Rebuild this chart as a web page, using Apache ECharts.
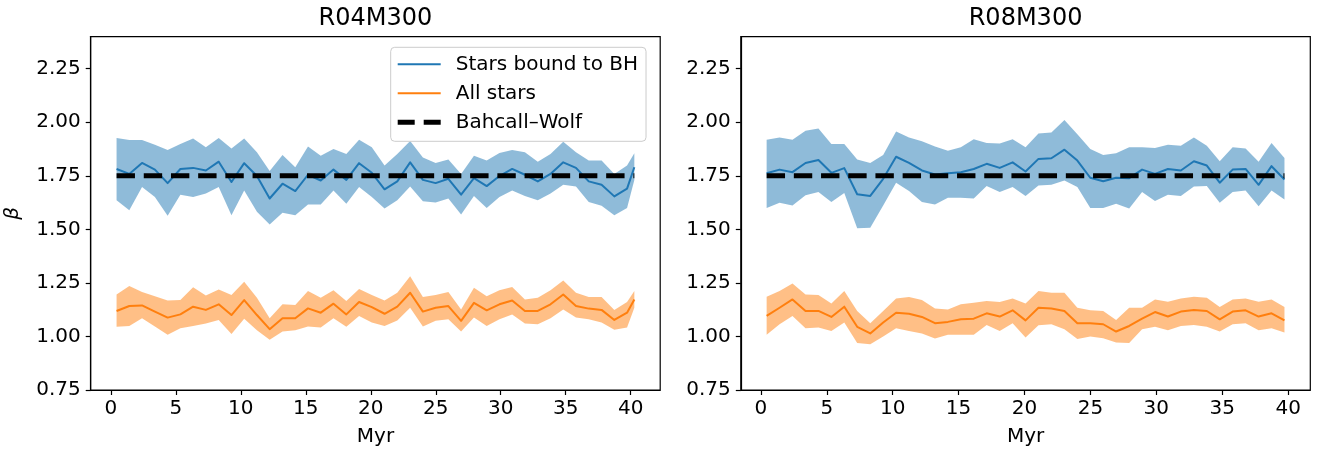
<!DOCTYPE html>
<html>
<head>
<meta charset="utf-8">
<script src="https://cdn.jsdelivr.net/npm/echarts@6/dist/echarts.min.js"></script>
<style>
  html, body { margin: 0; padding: 0; background: #ffffff; }
  #chart { width: 1318px; height: 452px; }
</style>
</head>
<body>
<div id="chart"></div>
<script>
// Snapshot times (Myr)
const timesLeft = [0.44, 1.42, 2.40, 3.39, 4.37, 5.35, 6.33, 7.31, 8.30, 9.28, 10.26, 11.24, 12.22, 13.21,
  14.19, 15.17, 16.15, 17.13, 18.12, 19.10, 20.08, 21.06, 22.04, 23.03, 24.01, 24.99, 25.97, 26.95, 27.94,
  28.92, 29.90, 30.88, 31.86, 32.85, 33.83, 34.81, 35.79, 36.77, 37.76, 38.74, 39.72, 40.28];
const timesRight = [0.44, 1.42, 2.40, 3.39, 4.37, 5.35, 6.33, 7.31, 8.30, 9.28, 10.26, 11.24, 12.22, 13.21,
  14.19, 15.17, 16.15, 17.13, 18.12, 19.10, 20.08, 21.06, 22.04, 23.03, 24.01, 24.99, 25.97, 26.95, 27.94,
  28.92, 29.90, 30.88, 31.86, 32.85, 33.83, 34.81, 35.79, 36.77, 37.76, 38.74, 39.72];

// R04M300: slope beta, stars bound to the BH (mean, upper, lower)
const r04BoundMid = [1.782, 1.759, 1.810, 1.779, 1.716, 1.782, 1.787, 1.775, 1.816, 1.721, 1.809, 1.749, 1.644, 1.713,
  1.679, 1.755, 1.728, 1.779, 1.731, 1.809, 1.764, 1.687, 1.724, 1.813, 1.731, 1.716, 1.736, 1.662, 1.739,
  1.702, 1.749, 1.782, 1.755, 1.724, 1.759, 1.813, 1.787, 1.724, 1.708, 1.654, 1.690, 1.790];
const r04BoundHi = [1.926, 1.917, 1.917, 1.895, 1.870, 1.898, 1.924, 1.883, 1.926, 1.878, 1.924, 1.860, 1.772, 1.847,
  1.790, 1.887, 1.844, 1.875, 1.852, 1.918, 1.883, 1.798, 1.852, 1.913, 1.836, 1.810, 1.826, 1.759, 1.844,
  1.821, 1.856, 1.870, 1.860, 1.816, 1.852, 1.909, 1.860, 1.821, 1.821, 1.759, 1.798, 1.855];
const r04BoundLo = [1.636, 1.589, 1.698, 1.651, 1.563, 1.662, 1.651, 1.667, 1.698, 1.566, 1.682, 1.582, 1.523, 1.577,
  1.566, 1.616, 1.616, 1.682, 1.620, 1.698, 1.651, 1.597, 1.636, 1.700, 1.631, 1.625, 1.644, 1.569, 1.656,
  1.600, 1.651, 1.682, 1.656, 1.636, 1.667, 1.708, 1.700, 1.628, 1.610, 1.566, 1.600, 1.731];
// R04M300: all stars
const r04AllMid = [1.119, 1.142, 1.145, 1.116, 1.088, 1.103, 1.139, 1.124, 1.150, 1.100, 1.170, 1.100, 1.034, 1.085,
  1.085, 1.131, 1.111, 1.153, 1.103, 1.161, 1.137, 1.106, 1.139, 1.204, 1.116, 1.134, 1.142, 1.073, 1.157,
  1.122, 1.150, 1.168, 1.119, 1.119, 1.150, 1.196, 1.142, 1.130, 1.124, 1.077, 1.111, 1.173];
const r04AllHi = [1.196, 1.235, 1.208, 1.188, 1.168, 1.170, 1.230, 1.191, 1.219, 1.193, 1.255, 1.181, 1.085, 1.150,
  1.147, 1.212, 1.181, 1.216, 1.165, 1.222, 1.193, 1.168, 1.204, 1.281, 1.184, 1.193, 1.208, 1.126, 1.227,
  1.188, 1.216, 1.231, 1.173, 1.181, 1.216, 1.261, 1.204, 1.184, 1.184, 1.124, 1.161, 1.212];
const r04AllLo = [1.045, 1.049, 1.085, 1.046, 1.008, 1.038, 1.049, 1.060, 1.077, 1.011, 1.083, 1.029, 0.985, 1.023,
  1.029, 1.046, 1.042, 1.085, 1.045, 1.096, 1.065, 1.049, 1.075, 1.134, 1.046, 1.073, 1.080, 1.023, 1.088,
  1.049, 1.080, 1.103, 1.060, 1.057, 1.085, 1.126, 1.088, 1.080, 1.065, 1.031, 1.042, 1.134];

// R08M300: stars bound to the BH
const r08BoundMid = [1.762, 1.779, 1.767, 1.810, 1.824, 1.764, 1.786, 1.664, 1.656, 1.736, 1.839, 1.810, 1.775, 1.756,
  1.762, 1.767, 1.782, 1.806, 1.787, 1.813, 1.770, 1.829, 1.832, 1.872, 1.821, 1.741, 1.725, 1.741, 1.739,
  1.779, 1.759, 1.782, 1.775, 1.818, 1.798, 1.718, 1.779, 1.782, 1.708, 1.795, 1.733];
const r08BoundHi = [1.918, 1.929, 1.918, 1.960, 1.971, 1.898, 1.898, 1.826, 1.810, 1.847, 1.957, 1.929, 1.911, 1.887,
  1.867, 1.883, 1.921, 1.903, 1.901, 1.921, 1.883, 1.948, 1.952, 2.011, 1.944, 1.875, 1.847, 1.855, 1.883,
  1.883, 1.880, 1.895, 1.890, 1.929, 1.890, 1.818, 1.883, 1.878, 1.816, 1.903, 1.833];
const r08BoundLo = [1.600, 1.624, 1.612, 1.659, 1.674, 1.628, 1.670, 1.505, 1.508, 1.612, 1.718, 1.679, 1.628, 1.616,
  1.648, 1.648, 1.644, 1.702, 1.674, 1.698, 1.656, 1.705, 1.708, 1.728, 1.698, 1.600, 1.600, 1.620, 1.597,
  1.674, 1.633, 1.662, 1.656, 1.700, 1.702, 1.624, 1.674, 1.682, 1.608, 1.682, 1.639];
// R08M300: all stars
const r08AllMid = [1.096, 1.134, 1.173, 1.119, 1.119, 1.091, 1.139, 1.045, 1.014, 1.065, 1.111, 1.106, 1.091, 1.062,
  1.068, 1.080, 1.083, 1.108, 1.093, 1.122, 1.075, 1.134, 1.131, 1.119, 1.062, 1.062, 1.057, 1.023, 1.049,
  1.083, 1.114, 1.093, 1.116, 1.124, 1.119, 1.080, 1.116, 1.122, 1.093, 1.108, 1.075];
const r08AllHi = [1.185, 1.212, 1.247, 1.196, 1.193, 1.154, 1.212, 1.119, 1.062, 1.119, 1.177, 1.184, 1.170, 1.131,
  1.126, 1.150, 1.157, 1.165, 1.161, 1.177, 1.154, 1.212, 1.204, 1.204, 1.134, 1.122, 1.119, 1.077, 1.134,
  1.134, 1.173, 1.162, 1.177, 1.185, 1.181, 1.137, 1.173, 1.177, 1.162, 1.173, 1.137];
const r08AllLo = [1.008, 1.057, 1.096, 1.038, 1.042, 1.026, 1.065, 0.969, 0.964, 1.000, 1.038, 1.026, 1.014, 0.991,
  1.008, 1.008, 1.008, 1.054, 1.026, 1.062, 0.995, 1.052, 1.057, 1.034, 0.988, 1.000, 0.992, 0.972, 0.969,
  1.034, 1.045, 1.029, 1.049, 1.054, 1.045, 1.023, 1.057, 1.062, 1.029, 1.038, 1.019];

// Bahcall-Wolf cusp slope
const bahcallWolf = 1.75;

// Tick values
const xTicks = [0, 5, 10, 15, 20, 25, 30, 35, 40];
const yTicks = [0.75, 1.00, 1.25, 1.50, 1.75, 2.00, 2.25];

const panelTitles = ['R04M300', 'R08M300'];
const seriesNames = ['Stars bound to BH', 'All stars', 'Bahcall\u2013Wolf'];

const FONT = 'DejaVu Sans';
const BLUE = '#1f77b4';
const ORANGE = '#ff7f0e';
const BLUE_FILL = 'rgba(31,119,180,0.5)';
const ORANGE_FILL = 'rgba(255,127,14,0.5)';
const BW_DASH = [18.4, 8.8];
// Legend key for the dashed reference line: two dashes inside a 43x14 box
const DASH_ICON = 'path://M0,0H0.01V14H0Z M0,4.5H17V9.5H0Z M26,4.5H43V9.5H26Z M42.99,0H43V14H42.99Z';

const pairs = (t, v) => t.map((x, i) => [x, v[i]]);

// Shaded spread between lower and upper curves, drawn as one polygon
function band(idx, t, lo, hi, fill) {
  return {
    type: 'custom', xAxisIndex: idx, yAxisIndex: idx, z: 1, silent: true,
    data: t.map((x, i) => [x, lo[i], hi[i]]),
    encode: { x: 0, y: [1, 2] },
    renderItem(params, api) {
      if (params.dataIndex !== 0) return null;
      const pts = [];
      for (let i = 0; i < t.length; i++) pts.push(api.coord([t[i], hi[i]]));
      for (let i = t.length - 1; i >= 0; i--) pts.push(api.coord([t[i], lo[i]]));
      return { type: 'polygon', shape: { points: pts }, style: { fill: fill, stroke: null } };
    }
  };
}

function line(idx, name, data, color, width, z, dash) {
  return {
    type: 'line', name: name, xAxisIndex: idx, yAxisIndex: idx, z: z,
    data: data, symbol: 'none', showSymbol: false, silent: true, animation: false,
    lineStyle: { color: color, width: width, type: dash || 'solid', cap: 'butt', join: 'round' },
    itemStyle: { color: color }
  };
}

const panels = [
  { t: timesLeft, bm: r04BoundMid, bh: r04BoundHi, bl: r04BoundLo, am: r04AllMid, ah: r04AllHi, al: r04AllLo,
    xMin: -1.55, xMax: 42.27, left: 90.7 },
  { t: timesRight, bm: r08BoundMid, bh: r08BoundHi, bl: r08BoundLo, am: r08AllMid, ah: r08AllHi, al: r08AllLo,
    xMin: -1.52, xMax: 41.68, left: 740.8 }
];

const GRID_W = 569.5, GRID_TOP = 36.6, GRID_H = 356.4;
const axisText = { fontSize: 20, fontFamily: FONT, color: '#000' };

const grids = [], xAxes = [], yAxes = [], series = [], titles = [];
panels.forEach((p, k) => {
  grids.push({ left: p.left, top: GRID_TOP, width: GRID_W, height: GRID_H,
    show: true, borderColor: '#000', borderWidth: 1.2, backgroundColor: 'transparent' });
  titles.push({ text: panelTitles[k], left: p.left + GRID_W / 2, top: 7, textAlign: 'center', padding: 0,
    textStyle: { fontSize: 24, fontFamily: FONT, fontWeight: 'normal', color: '#000' } });
  xAxes.push({
    gridIndex: k, type: 'value', min: p.xMin, max: p.xMax,
    splitLine: { show: false },
    axisLine: { show: true, onZero: false, lineStyle: { color: '#000', width: 1.2 } },
    axisTick: { show: true, length: 5, customValues: xTicks, lineStyle: { color: '#000', width: 1.2 } },
    axisLabel: { customValues: xTicks, margin: 9, ...axisText },
    name: 'Myr', nameLocation: 'middle', nameGap: 37, nameTextStyle: axisText
  });
  yAxes.push({
    gridIndex: k, type: 'value', min: 0.75, max: 2.4,
    splitLine: { show: false },
    axisLine: { show: true, onZero: false, lineStyle: { color: '#000', width: 1.2 } },
    axisTick: { show: true, length: 5, customValues: yTicks, lineStyle: { color: '#000', width: 1.2 } },
    axisLabel: { customValues: yTicks, margin: 10, formatter: v => v.toFixed(2), ...axisText },
    name: k === 0 ? '\u03b2' : '', nameLocation: 'middle', nameGap: 68, nameRotate: 90,
    nameTextStyle: { ...axisText, fontStyle: 'italic' }
  });
  const t0 = p.t[0], t1 = p.t[p.t.length - 1];
  series.push(band(k, p.t, p.bl, p.bh, BLUE_FILL));
  series.push(line(k, seriesNames[0], pairs(p.t, p.bm), BLUE, 2, 2));
  series.push(band(k, p.t, p.al, p.ah, ORANGE_FILL));
  series.push(line(k, seriesNames[1], pairs(p.t, p.am), ORANGE, 2, 2));
  series.push(line(k, seriesNames[2], [[t0, bahcallWolf], [t1, bahcallWolf]], '#000', 5, 3, BW_DASH));
});

const chart = echarts.init(document.getElementById('chart'), null, { renderer: 'canvas' });
chart.setOption({
  animation: false,
  backgroundColor: '#ffffff',
  title: titles,
  grid: grids,
  xAxis: xAxes,
  yAxis: yAxes,
  legend: {
    left: 390.7, top: 47.3, orient: 'vertical', selectedMode: false,
    data: [
      { name: seriesNames[0], lineStyle: { width: 2, type: 'solid', cap: 'butt' } },
      { name: seriesNames[1], lineStyle: { width: 2, type: 'solid', cap: 'butt' } },
      { name: seriesNames[2], icon: DASH_ICON, itemStyle: { color: '#000', opacity: 1, borderWidth: 0 } }
    ],
    itemStyle: { opacity: 0 },
    itemWidth: 43, itemHeight: 14, itemGap: 9,
    padding: [7, 8, 9, 6],
    backgroundColor: 'rgba(255,255,255,0.8)', borderColor: '#cccccc', borderWidth: 1, borderRadius: 4,
    textStyle: { fontSize: 20, fontFamily: FONT, color: '#000', padding: [0, 0, 0, 10], lineHeight: 20 }
  },
  series: series
});
</script>
</body>
</html>
